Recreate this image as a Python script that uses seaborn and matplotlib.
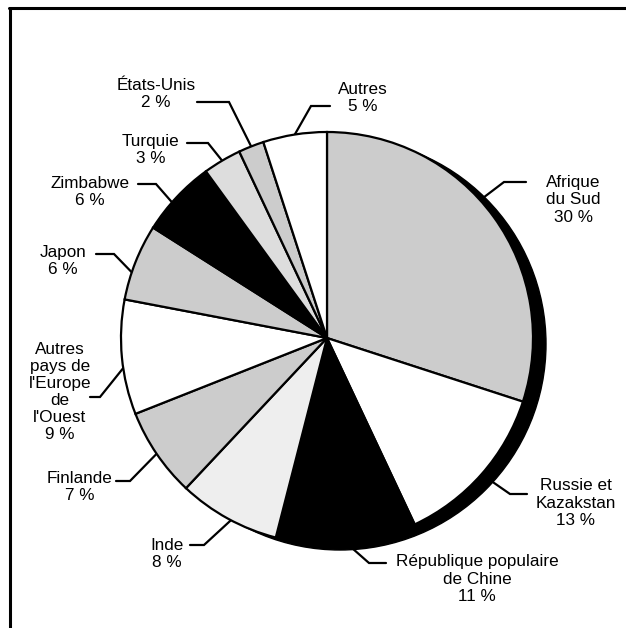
import numpy as np
import matplotlib
matplotlib.use("Agg")
import matplotlib.pyplot as plt
from matplotlib.patches import Circle
from matplotlib.lines import Line2D
import seaborn as sns

# Production shares by country (percent), clockwise from 12 o'clock
countries = [
    "Afrique\ndu Sud",
    "Russie et\nKazakstan",
    "République populaire\nde Chine",
    "Inde",
    "Finlande",
    "Autres\npays de\nl'Europe\nde\nl'Ouest",
    "Japon",
    "Zimbabwe",
    "Turquie",
    "États-Unis",
    "Autres",
]
shares = [30, 13, 11, 8, 7, 9, 6, 6, 3, 2, 5]
slice_colors = ["#cccccc", "#ffffff", "#000000", "#eeeeee", "#cccccc", "#ffffff",
                "#cccccc", "#000000", "#dddddd", "#cccccc", "#ffffff"]

# Label layout in pixel space (y measured downward from the top edge):
# text block centre, end of the horizontal leader stub and its elbow
text_pos = [(573, 200), (576, 503), (477, 579), (167, 554), (80, 487), (60, 392),
            (63, 261), (90, 192), (151, 150), (156, 94), (363, 98)]
stub_end = [(526, 182), (527, 494), (386, 563), (190, 545), (116, 481), (90, 397),
            (96, 254), (138, 184), (187, 143), (197, 102), (330, 106)]
stub_elbow = [(504, 182), (510, 494), (369, 563), (204, 545), (130, 481), (100, 397),
              (114, 254), (156, 184), (208, 143), (229, 102), (311, 106)]
# small angular nudge (degrees) of where each leader meets the rim
leader_nudge = [-6, 0, 0, -1, 0, -3, -3, -2, 0, 0, 0]

W, H = 626, 628
CX, CY, R = 327, 338, 206
SHADOW_DX, SHADOW_DY = 13, 6


def flip(p):
    return p[0], H - p[1]


sns.set_style("white")
plt.rcParams["font.family"] = ["Liberation Sans", "DejaVu Sans"]

fig = plt.figure(figsize=(W / 100, H / 100), dpi=100)
ax = fig.add_axes([0, 0, 1, 1])

# drop shadow behind the pie
ax.add_patch(Circle((CX + SHADOW_DX, H - CY - SHADOW_DY), R, facecolor="black",
                    edgecolor="black", zorder=0))

wedges, _ = ax.pie(shares, colors=slice_colors, startangle=90, counterclock=False,
                   radius=R, center=(CX, H - CY),
                   wedgeprops=dict(edgecolor="black", linewidth=1.6))
for w in wedges:
    w.set_zorder(1)

# leader lines: horizontal stub, then diagonal to the slice's mid-angle on the rim
cum = np.cumsum([0] + shares)
total = float(sum(shares))
for i, name in enumerate(countries):
    mid = (cum[i] + shares[i] / 2) / total * 2 * np.pi + np.radians(leader_nudge[i])
    rx = CX + R * np.sin(mid)
    ry = H - (CY - R * np.cos(mid))
    ex, ey = flip(stub_end[i])
    bx, by = flip(stub_elbow[i])
    ax.plot([ex, bx, rx], [ey, by, ry], color="black", lw=1.6,
            solid_joinstyle="miter", zorder=0.5)
    tx, ty = flip(text_pos[i])
    ax.text(tx, ty, f"{name}\n{shares[i]} %", ha="center", va="center",
            multialignment="center", fontsize=12.3, linespacing=1.17, color="black")

ax.set_xlim(0, W)
ax.set_ylim(0, H)
ax.set_aspect("equal")
ax.axis("off")

# open frame: top and left rules
fig.add_artist(Line2D([9 / W, 1], [1 - 8 / H, 1 - 8 / H], color="black", lw=2.2,
                      transform=fig.transFigure))
fig.add_artist(Line2D([10 / W, 10 / W], [0, 1 - 8 / H], color="black", lw=2.2,
                      transform=fig.transFigure))

fig.savefig("out.png", dpi=100)
